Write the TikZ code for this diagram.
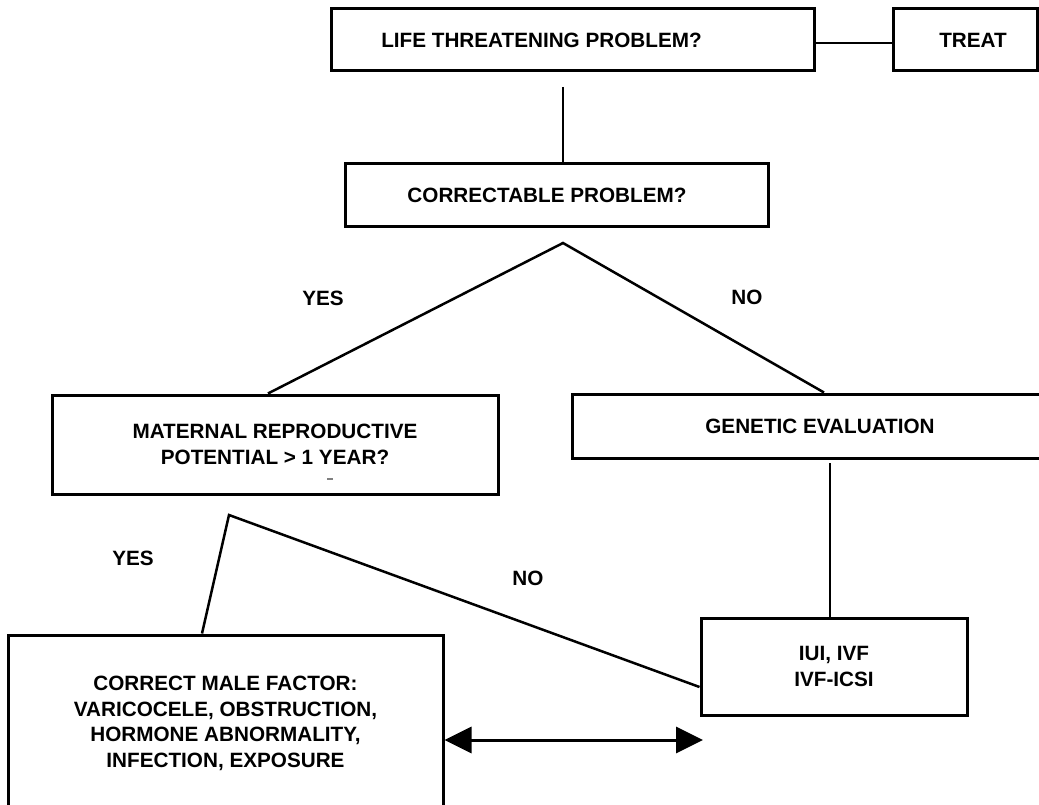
\documentclass[tikz,border=0pt]{standalone}
\usepackage{fontspec}
\setmainfont{Liberation Sans}
\usetikzlibrary{arrows.meta}
\begin{document}
\begin{tikzpicture}[x=1pt,y=-1pt,
  box/.style={draw, line width=3pt, inner sep=0pt, font=\fontsize{20.7}{25.5}\selectfont\bfseries},
  conn/.style={line width=2.5pt},
  lbl/.style={inner sep=0pt, font=\fontsize{20.7}{25.5}\selectfont\bfseries},
  bigtip/.tip={Triangle[length=27pt,width=26pt]}]
\useasboundingbox (0,0) rectangle (1039,805);
\clip (0,0) rectangle (1039,805);
\node[box, minimum width=483pt, minimum height=62pt] (life) at (572.5,40) {LIFE THREATENING PROBLEM?\hspace*{62pt}};
\node[box, minimum width=144pt, minimum height=62pt] (treat) at (965,40) {\hspace*{16pt}TREAT};
\node[box, minimum width=423pt, minimum height=63pt] (correct) at (556.5,195.5) {CORRECTABLE PROBLEM?\hspace*{19pt}};
\node[box, align=center, minimum width=446pt, minimum height=99pt] (maternal) at (275,444.5) {MATERNAL REPRODUCTIVE\\POTENTIAL > 1 YEAR?};
\node[box, minimum width=473pt, minimum height=64pt] (genetic) at (808.5,426) {\hspace*{23pt}GENETIC EVALUATION};
\node[box, align=center, minimum width=435pt, minimum height=177pt] (male) at (225.5,723.5) {CORRECT MALE FACTOR:\\VARICOCELE, OBSTRUCTION,\\HORMONE ABNORMALITY,\\INFECTION, EXPOSURE};
\node[box, align=center, minimum width=266pt, minimum height=97pt] (iui) at (834,666.5) {IUI, IVF\\IVF-ICSI};

\node[lbl] (yes1) at (323,298) {YES};
\node[lbl] (no1) at (747,297) {NO};
\node[lbl] (yes2) at (133,558) {YES};
\node[lbl] (no2) at (528,578) {NO};

\coordinate (c1) at (563,87);
\coordinate (a1) at (563,243);
\coordinate (c2) at (830,463);
\coordinate (a2) at (229,515);
\coordinate (c3) at (703,740);

\draw[conn] ([yshift=-3pt]life.east) -- ([yshift=-3pt]treat.west);
\draw[conn] (c1) -- (c1 |- correct.north);
\draw[conn] ([xshift=-7pt]maternal.north) -- (a1) -- ([xshift=15.5pt]genetic.north);
\draw[conn] (c2) -- (c2 |- iui.north);
\draw[conn] ([xshift=-23.5pt]male.north) -- (a2) -- ([yshift=-20.5pt]iui.west);
\draw[line width=3pt, bigtip-bigtip] ([yshift=-16.5pt]male.east) -- (c3);
\draw[line width=1.5pt, gray] (327,479) -- (333,479);
\end{tikzpicture}
\end{document}
